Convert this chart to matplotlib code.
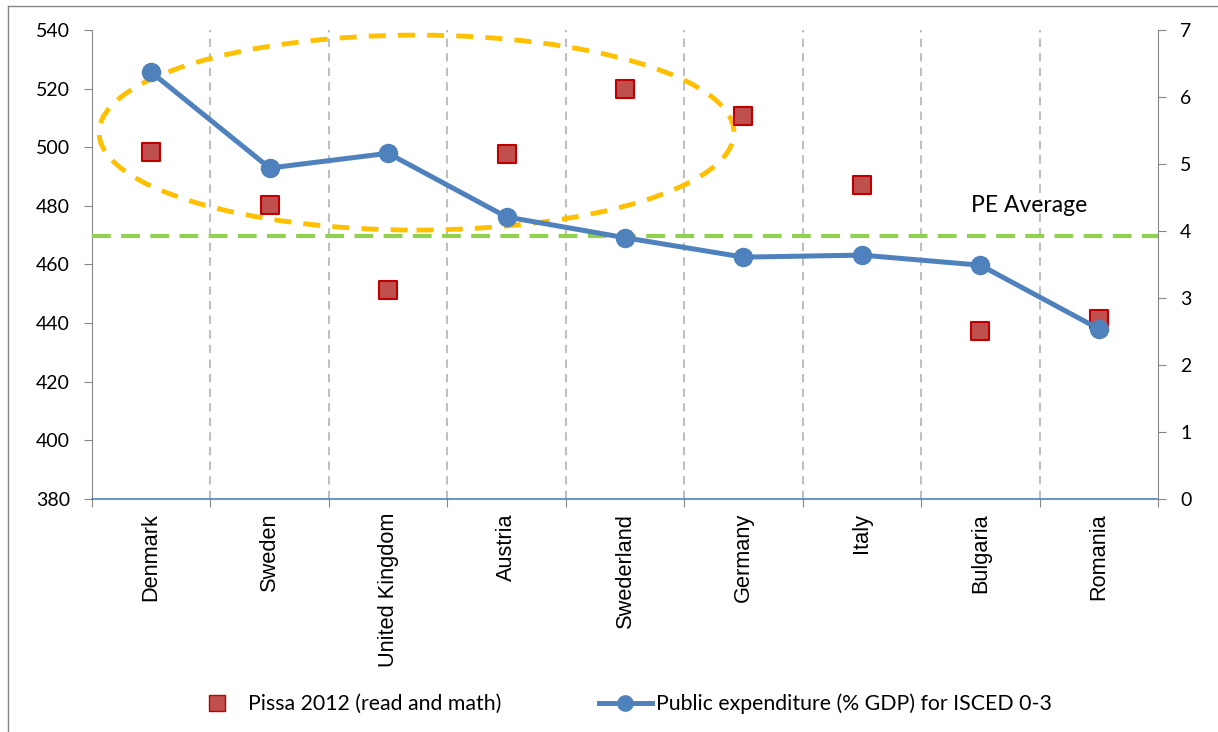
import matplotlib
matplotlib.use('Agg')
import matplotlib.pyplot as plt
from matplotlib.patches import Ellipse
from matplotlib.lines import Line2D

# Data
countries = ['Denmark', 'Sweden', 'United Kingdom', 'Austria', 'Swederland',
             'Germany', 'Italy', 'Bulgaria', 'Romania']
pisa_2012 = [498.5, 480.3, 451.3, 497.8, 519.9, 510.8, 487.2, 437.3, 441.5]
public_exp = [6.37, 4.94, 5.16, 4.21, 3.90, 3.61, 3.64, 3.49, 2.54]
pe_average = 3.93

fig = plt.figure(figsize=(12.18, 7.32), dpi=100)
ax = fig.add_axes([92 / 1218, 1 - 499 / 732, (1158 - 92) / 1218, (499 - 30) / 732])
ax2 = ax.twinx()

x = list(range(len(countries)))

# vertical dashed separators between categories
for b in range(1, len(countries)):
    ax.axvline(b - 0.5, color='#BFBFBF', lw=1.5, ls=(0, (4, 3)), zorder=0)

ax.set_xlim(-0.5, len(countries) - 0.5)
ax.set_ylim(380, 540)
ax.set_yticks(range(380, 541, 20))
ax2.set_ylim(0, 7)
ax2.set_yticks(range(0, 8))

# ellipse highlighting the first group
ell = Ellipse((2.24, 505.0), 5.36, 66.5, fill=False, edgecolor='#FFC000',
              lw=3.5, ls=(0, (3.5, 2.5)), zorder=1)
ax.add_patch(ell)

ax.scatter(x, pisa_2012, marker='s', s=160, facecolor='#C0504D',
           edgecolor='#C00000', linewidths=1.5, zorder=3)

ax2.axhline(pe_average, color='#92D050', lw=3, ls=(0, (4.5, 2.5)), zorder=2)
ax2.plot(x, public_exp, color='#4F81BD', lw=3.6, marker='o', markersize=13,
         zorder=4)
ax2.text(7.41, 4.22, 'PE Average', fontsize=16.5, family='Lato',
         ha='center', va='bottom')

# spines / ticks
for a in (ax, ax2):
    a.spines['top'].set_visible(False)
ax.spines['left'].set_color('#868686')
ax.spines['right'].set_visible(False)
ax2.spines['left'].set_visible(False)
ax2.spines['right'].set_color('#868686')
ax.spines['bottom'].set_color('#4F81BD')
ax2.spines['bottom'].set_visible(False)
ax.spines['bottom'].set_linewidth(1.2)

ax.tick_params(axis='y', direction='out', length=6, color='#868686',
               labelsize=14, pad=10)
ax2.tick_params(axis='y', direction='out', length=6, color='#868686',
                labelsize=14, pad=10)
for lab in ax.get_yticklabels() + ax2.get_yticklabels():
    lab.set_family('Lato')

ax.set_xticks([b - 0.5 for b in range(len(countries) + 1)], minor=False)
ax.set_xticklabels([])
ax.tick_params(axis='x', direction='out', length=6, color='#868686')
ax.set_xticks(x, minor=True)
ax.set_xticklabels(countries, minor=True, rotation=90, fontsize=15.7,
                   family='Liberation Sans')
ax.tick_params(axis='x', which='minor', length=0, pad=10)

# legend
handles = [
    Line2D([], [], ls='none', marker='s', markersize=11,
           markerfacecolor='#C0504D', markeredgecolor='#C00000'),
    Line2D([], [], color='#4F81BD', lw=3.6, marker='o', markersize=11),
]
fig.legend(handles, ['Pissa 2012 (read and math)',
                     'Public expenditure (% GDP) for ISCED 0-3'],
           loc='center', bbox_to_anchor=(621 / 1218, 1 - 704 / 732),
           ncol=2, frameon=False, prop={'family': 'Lato', 'size': 15.3},
           columnspacing=4.6, handlelength=2.5, handletextpad=0.2)

# chart-area border (top and left visible)
fig.add_artist(Line2D([8 / 1218, 8 / 1218], [0, 1 - 6 / 732],
                      transform=fig.transFigure, color='#868686', lw=1))
fig.add_artist(Line2D([8 / 1218, 1], [1 - 6 / 732, 1 - 6 / 732],
                      transform=fig.transFigure, color='#868686', lw=1))

fig.savefig('out.png', dpi=100)
